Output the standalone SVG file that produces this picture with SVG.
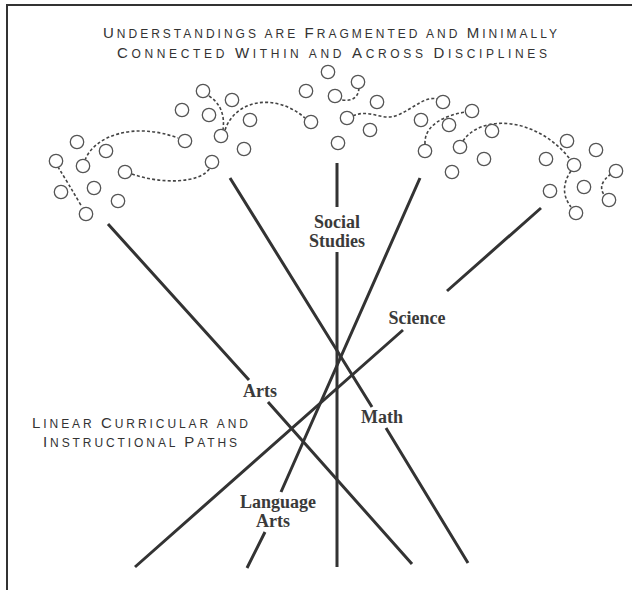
<svg xmlns="http://www.w3.org/2000/svg" width="632" height="590" viewBox="0 0 632 590">
<style>
.bd{fill:none;stroke:#333;stroke-width:2}
.path{fill:none;stroke:#333;stroke-width:3;stroke-linecap:butt}
.dash{fill:none;stroke:#444;stroke-width:1.6;stroke-dasharray:3 2.2}
.c{fill:#fff;stroke:#555;stroke-width:1.3}
.cap{font-family:"Liberation Sans",Arial,sans-serif;fill:#333}
.big{font-size:15px}
.sm{font-size:12px}
.lbl{font-family:"Liberation Serif","Times New Roman",serif;font-weight:bold;font-size:18px;fill:#3a3a3a;text-anchor:middle}
</style>
<rect width="632" height="590" fill="#fff"/>
<path class="bd" d="M7 590 V5 H632"/>
<g id="title">
<text class="cap" x="103" y="38" textLength="454" lengthAdjust="spacing"><tspan class="big">U</tspan><tspan class="sm">NDERSTANDINGS ARE </tspan><tspan class="big">F</tspan><tspan class="sm">RAGMENTED AND </tspan><tspan class="big">M</tspan><tspan class="sm">INIMALLY</tspan></text>
<text class="cap" x="117" y="58" textLength="430" lengthAdjust="spacing"><tspan class="big">C</tspan><tspan class="sm">ONNECTED </tspan><tspan class="big">W</tspan><tspan class="sm">ITHIN AND </tspan><tspan class="big">A</tspan><tspan class="sm">CROSS </tspan><tspan class="big">D</tspan><tspan class="sm">ISCIPLINES</tspan></text>
</g>
<g id="paths-caption">
<text class="cap" x="32" y="428" textLength="216" lengthAdjust="spacing"><tspan class="big">L</tspan><tspan class="sm">INEAR </tspan><tspan class="big">C</tspan><tspan class="sm">URRICULAR AND</tspan></text>
<text class="cap" x="43" y="447" textLength="194" lengthAdjust="spacing"><tspan class="big">I</tspan><tspan class="sm">NSTRUCTIONAL </tspan><tspan class="big">P</tspan><tspan class="sm">ATHS</tspan></text>
</g>
<g id="connectors">
<path class="dash" d="M58 167 Q68 183 82 207"/>
<path class="dash" d="M85 160 C95 135 135 122 178 138"/>
<path class="dash" d="M132 174 C160 184 200 184 210 168"/>
<path class="dash" d="M209 96 Q226 107 223 130"/>
<path class="dash" d="M225 130 C235 100 275 92 305 118"/>
<path class="dash" d="M359 88 Q358 102 342 100"/>
<path class="dash" d="M353 116 C370 108 382 122 398 115 S425 96 437 99"/>
<path class="dash" d="M425 144 C424 125 445 115 466 112"/>
<path class="dash" d="M463 141 C480 115 535 115 570 159"/>
<path class="dash" d="M571 171 Q558 190 571 207"/>
<path class="dash" d="M611 174 Q596 185 605 196"/>
</g>
<g id="ideas">
<circle class="c" cx="182" cy="110" r="6.7"/><circle class="c" cx="185" cy="141" r="6.7"/><circle class="c" cx="77" cy="142" r="6.7"/><circle class="c" cx="106" cy="151" r="6.7"/><circle class="c" cx="56" cy="161" r="6.7"/><circle class="c" cx="83" cy="166" r="6.7"/><circle class="c" cx="125" cy="172" r="6.7"/><circle class="c" cx="61" cy="192" r="6.7"/><circle class="c" cx="94" cy="188" r="6.7"/><circle class="c" cx="118" cy="201" r="6.7"/><circle class="c" cx="86" cy="214" r="6.7"/>
<circle class="c" cx="203" cy="91" r="6.7"/><circle class="c" cx="232" cy="100" r="6.7"/><circle class="c" cx="209" cy="115" r="6.7"/><circle class="c" cx="250" cy="120" r="6.7"/><circle class="c" cx="221" cy="136" r="6.7"/><circle class="c" cx="244" cy="149" r="6.7"/><circle class="c" cx="212" cy="162" r="6.7"/><circle class="c" cx="311" cy="122" r="6.7"/><circle class="c" cx="306" cy="91" r="6.7"/>
<circle class="c" cx="328" cy="72" r="6.7"/><circle class="c" cx="358" cy="82" r="6.7"/><circle class="c" cx="335" cy="96" r="6.7"/><circle class="c" cx="377" cy="102" r="6.7"/><circle class="c" cx="347" cy="118" r="6.7"/><circle class="c" cx="370" cy="130" r="6.7"/><circle class="c" cx="338" cy="143" r="6.7"/><circle class="c" cx="443" cy="102" r="6.7"/>
<circle class="c" cx="421" cy="120" r="6.7"/><circle class="c" cx="449" cy="125" r="6.7"/><circle class="c" cx="472" cy="111" r="6.7"/><circle class="c" cx="492" cy="131" r="6.7"/><circle class="c" cx="425" cy="151" r="6.7"/><circle class="c" cx="460" cy="147" r="6.7"/><circle class="c" cx="484" cy="159" r="6.7"/><circle class="c" cx="452" cy="172" r="6.7"/><circle class="c" cx="567" cy="141" r="6.7"/><circle class="c" cx="596" cy="150" r="6.7"/><circle class="c" cx="546" cy="159" r="6.7"/><circle class="c" cx="574" cy="165" r="6.7"/><circle class="c" cx="616" cy="171" r="6.7"/><circle class="c" cx="550" cy="191" r="6.7"/><circle class="c" cx="584" cy="187" r="6.7"/><circle class="c" cx="609" cy="200" r="6.7"/><circle class="c" cx="576" cy="213" r="6.7"/>
</g>
<g id="social-studies">
<path class="path" d="M337 163 V207 M337 252 V567"/>
<text class="lbl" x="337" y="228">Social</text>
<text class="lbl" x="337" y="247">Studies</text>
</g>
<g id="arts">
<path class="path" d="M108 224 L249 380 M268 402 L412 564"/>
<text class="lbl" x="260" y="397">Arts</text>
</g>
<g id="math">
<path class="path" d="M230 178 L372 407 M386 428 L468 563"/>
<text class="lbl" x="382" y="423">Math</text>
</g>
<g id="science">
<path class="path" d="M541 208 L447 291 M403 330 L135 567"/>
<text class="lbl" x="417" y="324">Science</text>
</g>
<g id="language-arts">
<path class="path" d="M420 178 L281 492 M265 532 L247 568"/>
<text class="lbl" x="278" y="508">Language</text>
<text class="lbl" x="273" y="527">Arts</text>
</g>
</svg>
